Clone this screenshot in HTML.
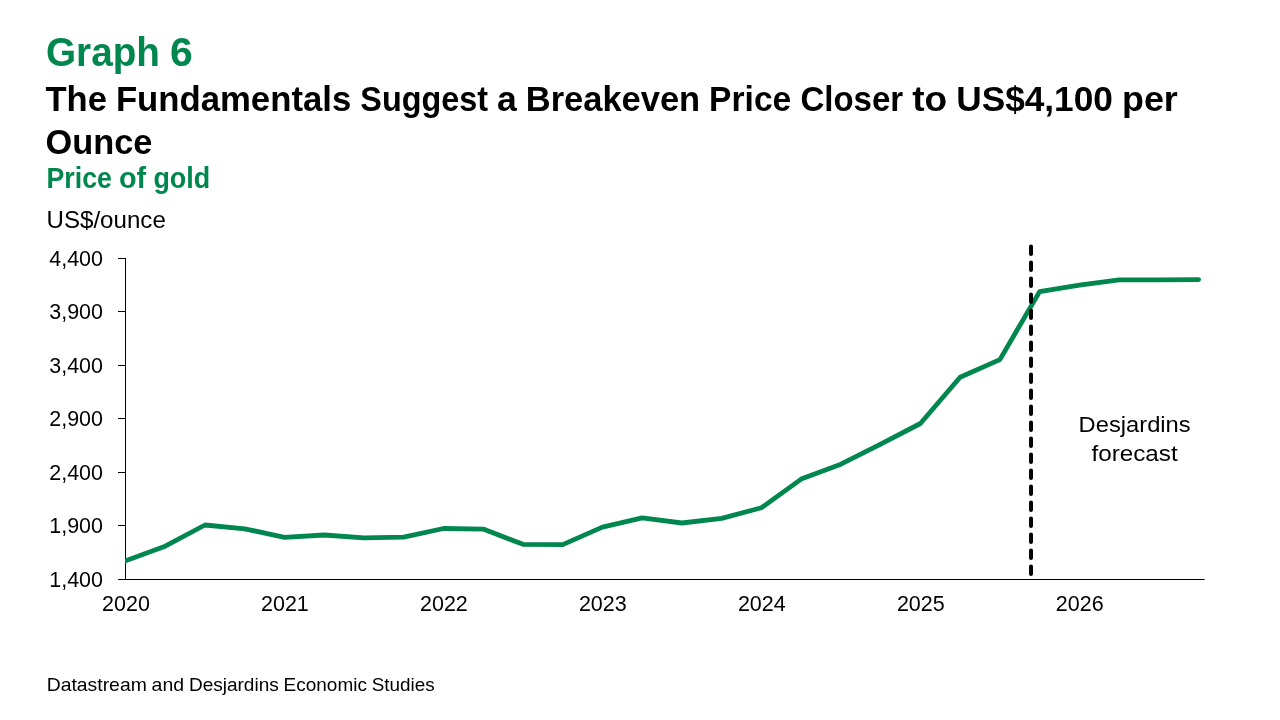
<!DOCTYPE html>
<html lang="en">
<head>
<meta charset="utf-8">
<title>Graph 6 - Price of gold</title>
<style>
html, body { margin: 0; padding: 0; background: #ffffff; }
body { width: 1280px; height: 720px; overflow: hidden; }
svg { display: block; font-family: "Liberation Sans", Arial, Helvetica, sans-serif; }
.axis line { stroke: #000000; stroke-width: 1; }
</style>
</head>
<body>
<svg width="1280" height="720" viewBox="0 0 1280 720">
<rect width="1280" height="720" fill="#ffffff"/>
<g class="titles">
<text y="66.3" font-size="41.00" font-weight="bold" fill="#00874e"><tspan x="46.0" textLength="113.9" lengthAdjust="spacingAndGlyphs">Graph</tspan> <tspan x="170.1" textLength="22.8" lengthAdjust="spacingAndGlyphs">6</tspan></text>
<text y="110.8" font-size="35.70" font-weight="bold" fill="#000"><tspan x="45.5" textLength="61.4" lengthAdjust="spacingAndGlyphs">The</tspan> <tspan x="115.9" textLength="235.3" lengthAdjust="spacingAndGlyphs">Fundamentals</tspan> <tspan x="360.3" textLength="127.7" lengthAdjust="spacingAndGlyphs">Suggest</tspan> <tspan x="497.0" textLength="19.8" lengthAdjust="spacingAndGlyphs">a</tspan> <tspan x="525.8" textLength="174.3" lengthAdjust="spacingAndGlyphs">Breakeven</tspan> <tspan x="709.1" textLength="82.2" lengthAdjust="spacingAndGlyphs">Price</tspan> <tspan x="800.4" textLength="102.8" lengthAdjust="spacingAndGlyphs">Closer</tspan> <tspan x="912.2" textLength="35.0" lengthAdjust="spacingAndGlyphs">to</tspan> <tspan x="956.2" textLength="156.7" lengthAdjust="spacingAndGlyphs">US$4,100</tspan> <tspan x="1122.0" textLength="55.8" lengthAdjust="spacingAndGlyphs">per</tspan></text>
<text x="45.5" y="154.0" font-size="35.70" font-weight="bold" fill="#000" textLength="106.9" lengthAdjust="spacingAndGlyphs">Ounce</text>
<text y="188.3" font-size="28.80" font-weight="bold" fill="#00874e"><tspan x="46.5" textLength="65.4" lengthAdjust="spacingAndGlyphs">Price</tspan> <tspan x="119.0" textLength="27.2" lengthAdjust="spacingAndGlyphs">of</tspan> <tspan x="153.4" textLength="56.8" lengthAdjust="spacingAndGlyphs">gold</tspan></text>
<text x="46.5" y="227.6" font-size="23.90" fill="#000" textLength="119.3" lengthAdjust="spacingAndGlyphs">US$/ounce</text>
</g>
<g class="axis">
<line x1="118" x2="125" y1="258.5" y2="258.5"/>
<line x1="118" x2="125" y1="311.5" y2="311.5"/>
<line x1="118" x2="125" y1="365.5" y2="365.5"/>
<line x1="118" x2="125" y1="418.5" y2="418.5"/>
<line x1="118" x2="125" y1="472.5" y2="472.5"/>
<line x1="118" x2="125" y1="525.5" y2="525.5"/>
<line x1="118" x2="125" y1="579.5" y2="579.5"/>
<line x1="125.5" x2="125.5" y1="258" y2="580"/>
<line x1="118" x2="1204.6" y1="579.5" y2="579.5"/>
</g>
<g class="y-labels">
<text x="49.3" y="265.8" font-size="21.92" fill="#000" textLength="53.7" lengthAdjust="spacingAndGlyphs">4,400</text>
<text x="49.3" y="319.3" font-size="21.92" fill="#000" textLength="53.7" lengthAdjust="spacingAndGlyphs">3,900</text>
<text x="49.3" y="372.8" font-size="21.92" fill="#000" textLength="53.7" lengthAdjust="spacingAndGlyphs">3,400</text>
<text x="49.3" y="426.3" font-size="21.92" fill="#000" textLength="53.7" lengthAdjust="spacingAndGlyphs">2,900</text>
<text x="49.3" y="479.8" font-size="21.92" fill="#000" textLength="53.7" lengthAdjust="spacingAndGlyphs">2,400</text>
<text x="49.3" y="533.3" font-size="21.92" fill="#000" textLength="53.7" lengthAdjust="spacingAndGlyphs">1,900</text>
<text x="49.3" y="586.8" font-size="21.92" fill="#000" textLength="53.7" lengthAdjust="spacingAndGlyphs">1,400</text>
</g>
<g class="x-labels">
<text x="102.1" y="611.4" font-size="21.92" fill="#000" textLength="47.8" lengthAdjust="spacingAndGlyphs">2020</text>
<text x="261.0" y="611.4" font-size="21.92" fill="#000" textLength="47.8" lengthAdjust="spacingAndGlyphs">2021</text>
<text x="420.0" y="611.4" font-size="21.92" fill="#000" textLength="47.8" lengthAdjust="spacingAndGlyphs">2022</text>
<text x="578.9" y="611.4" font-size="21.92" fill="#000" textLength="47.8" lengthAdjust="spacingAndGlyphs">2023</text>
<text x="737.9" y="611.4" font-size="21.92" fill="#000" textLength="47.8" lengthAdjust="spacingAndGlyphs">2024</text>
<text x="896.9" y="611.4" font-size="21.92" fill="#000" textLength="47.8" lengthAdjust="spacingAndGlyphs">2025</text>
<text x="1055.8" y="611.4" font-size="21.92" fill="#000" textLength="47.8" lengthAdjust="spacingAndGlyphs">2026</text>
</g>
<clipPath id="plot"><rect x="125" y="240" width="1155" height="345"/></clipPath>
<polyline clip-path="url(#plot)" points="125.5,560.8 165.2,546.2 205.0,525.0 244.7,528.8 284.5,537.3 324.2,535.0 364.0,537.8 403.7,537.2 443.5,528.5 483.2,529.1 523.0,544.3 562.7,544.6 602.4,527.1 642.2,517.9 681.9,523.0 721.7,518.4 761.4,507.8 801.2,479.1 840.9,464.2 880.7,444.1 920.4,423.5 960.1,377.3 999.9,359.6 1039.6,291.6 1079.4,285.2 1119.1,279.8 1158.9,279.8 1198.6,279.6" fill="none" stroke="#00874e" stroke-width="4.8" stroke-linejoin="round" stroke-linecap="round"/>
<line x1="1031" x2="1031" y1="246.6" y2="577" stroke="#000000" stroke-width="4" stroke-linecap="round" stroke-dasharray="7.5 8.5"/>
<g class="annotation">
<text x="1078.6" y="431.9" font-size="22.70" fill="#000" textLength="112.1" lengthAdjust="spacingAndGlyphs">Desjardins</text>
<text x="1091.5" y="460.7" font-size="22.70" fill="#000" textLength="86.2" lengthAdjust="spacingAndGlyphs">forecast</text>
</g>
<g class="source">
<text y="691.2" font-size="17.80" fill="#000"><tspan x="46.7" textLength="100.1" lengthAdjust="spacingAndGlyphs">Datastream</tspan> <tspan x="151.6" textLength="32.5" lengthAdjust="spacingAndGlyphs">and</tspan> <tspan x="188.9" textLength="89.9" lengthAdjust="spacingAndGlyphs">Desjardins</tspan> <tspan x="283.6" textLength="83.3" lengthAdjust="spacingAndGlyphs">Economic</tspan> <tspan x="371.7" textLength="63.0" lengthAdjust="spacingAndGlyphs">Studies</tspan></text>
</g>
</svg>
</body>
</html>
